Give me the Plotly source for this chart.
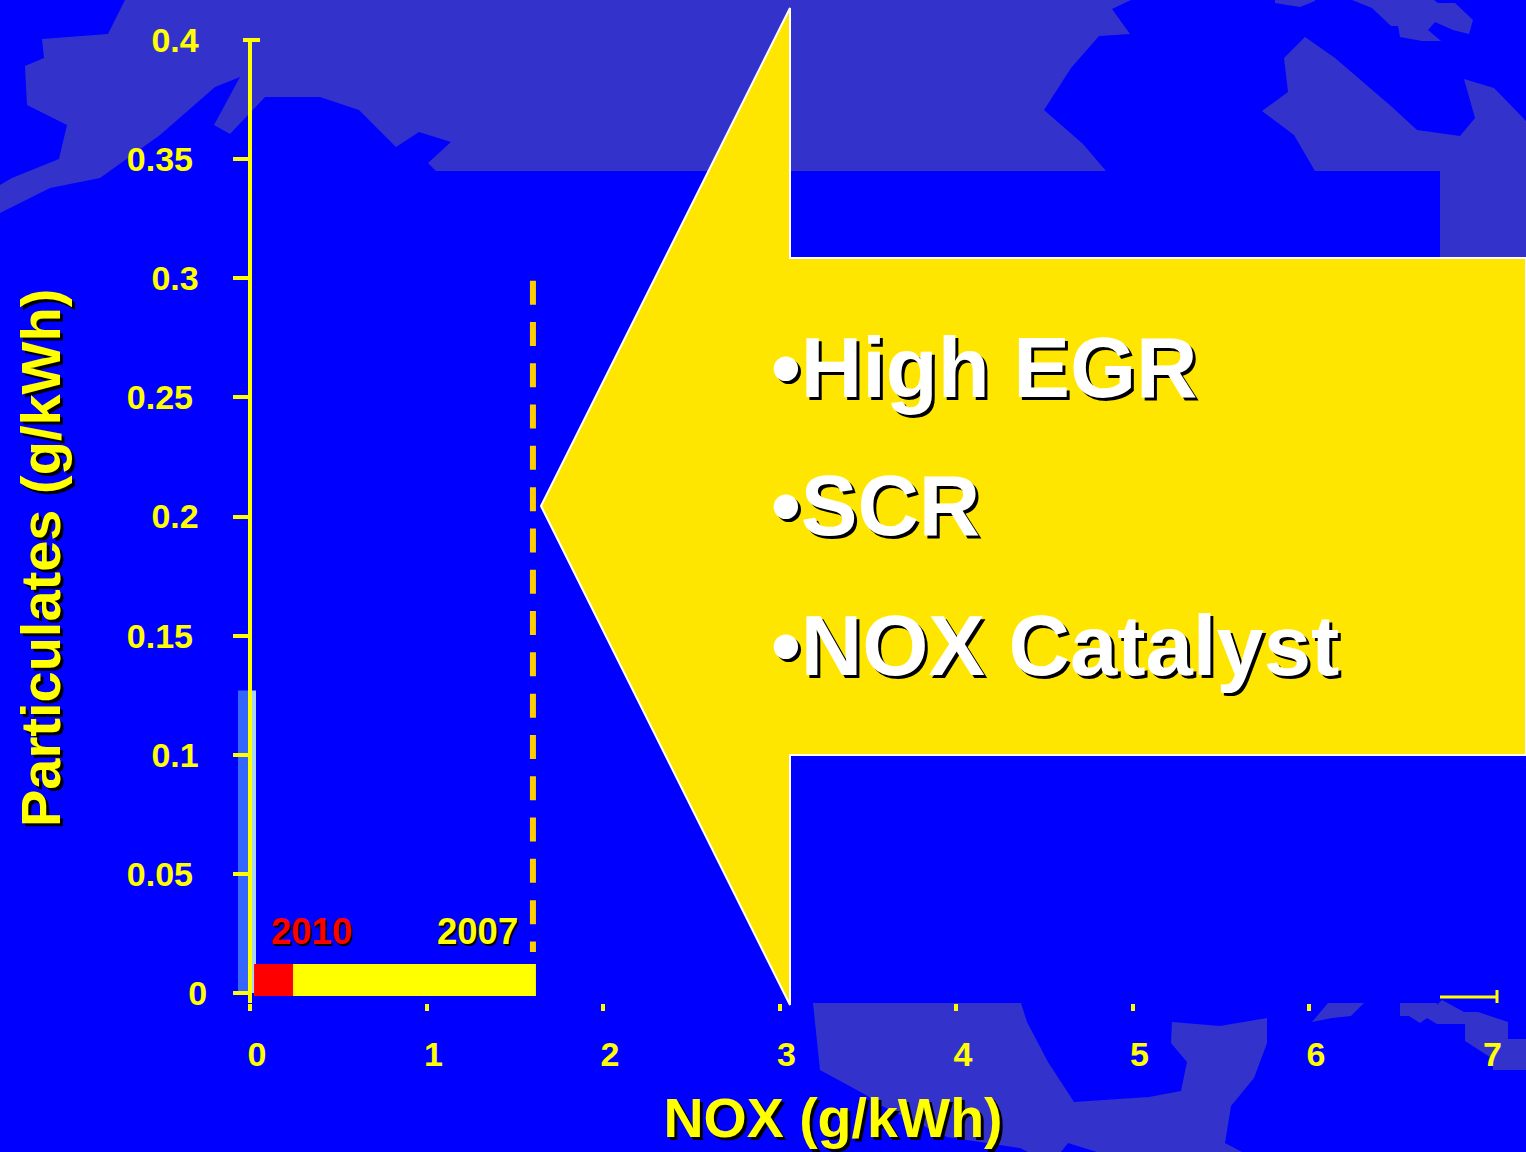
import plotly.graph_objects as go

W, H = 1526, 1152
BLUE, LAND, YEL = "#0000ff", "#3333cc", "#ffff00"
FONT = "Liberation Sans"

# ---- data ----
x_ticks = [0, 1, 2, 3, 4, 5, 6, 7]
y_ticks = [0, 0.05, 0.1, 0.15, 0.2, 0.25, 0.3, 0.35, 0.4]
y_labels = ["0", "0.05", "0.1", "0.15", "0.2", "0.25", "0.3", "0.35", "0.4"]
nox_2007 = [0.023, 1.62]
nox_2010 = [0.023, 0.244]
pm_band = [-0.00126, 0.0122]
limit_nox = [1.603, 1.603]
limit_pm = [0.299, 0.0172]
band_nox = [-0.068, 0.0]
band_nox_light = [0.0, 0.034]
band_pm = [0.0, 0.127]
bullets = ["•High EGR", "•SCR", "•NOX Catalyst"]

# ---- page geometry: axes are linear, 176.5 px per NOX unit, 2382.5 px per PM unit ----
PX0, PXU, PY0, PYU = 250, 176.5, 993, 2382.5
dx = lambda px: (px - PX0) / PXU
dy = lambda py: (PY0 - py) / PYU
def path(pts):
    return "M" + "L".join(f"{x / W:.5f},{1 - y / H:.5f}" for x, y in pts) + "Z"

land = [
    [(125,0),(108,34),(42,39),(44,58),(25,66),(27,105),(67,125),(59,159),(12,178),(0,185),(0,213),
     (50,188),(100,178),(160,135),(215,87),(240,77),(214,125),(230,134),(265,97),(320,97),(359,110),
     (396,147),(419,132),(451,142),(428,163),(436,171),(1106,171),(1083,144),(1044,110),(1071,68),
     (1099,36),(1130,34),(1112,9),(1131,0)],
    [(1440,258),(1440,171),(1315,171),(1294,135),(1262,111),(1288,92),(1284,58),(1305,37),(1335,58),
     (1392,107),(1417,130),(1460,136),(1475,118),(1464,79),(1494,88),(1526,121),(1526,258)],
    [(1275,0),(1275,3),(1300,7),(1315,1),(1315,0)],
    [(1352,0),(1372,8),(1391,26),(1398,26),(1400,37),(1422,41),(1441,41),(1428,30),(1435,22),(1453,30),
     (1469,34),(1473,20),(1455,3),(1438,3),(1434,0)],
    [(813,1003),(820,1070),(866,1095),(880,1105),(947,1137),(1020,1148),(1028,1152),(1061,1152),(1068,1143),
     (1097,1152),(1242,1152),(1225,1143),(1231,1106),(1254,1078),(1267,1043),(1267,1018),(1220,1026),
     (1172,1022),(1171,1043),(1187,1062),(1181,1091),(1149,1097),(1074,1102),(1048,1062),(1027,1022),(1021,1003)],
    [(1328,1003),(1312,1022),(1332,1018),(1351,1016),(1364,1003)],
    [(1400,1003),(1400,1016),(1409,1016),(1420,1023),(1427,1018),(1437,1024),(1465,1024),(1465,1041),
     (1493,1059),(1493,1070),(1526,1070),(1526,1039),(1508,1039),(1508,1022),(1478,1012),(1464,1012),
     (1442,1000),(1437,1005),(1437,1003)],
]
arrow = [(790,8),(790,258),(1526,258),(1526,755),(790,755),(790,1005),(541,506)]

shapes = [dict(type="path", xref="paper", yref="paper", path=path(p), fillcolor=LAND, line_width=0, layer="below") for p in land]
shapes.append(dict(type="path", xref="paper", yref="paper", path=path(arrow), fillcolor="#ffe600",
                   line=dict(color="#ffffff", width=2), layer="below"))
shapes.append(dict(type="line", xref="paper", yref="paper", x0=255/W, x1=255/W, y0=1-190/H, y1=1-690/H,
                   line=dict(color="#0000c8", width=1), layer="below"))
# trims the two ticks that the reference draws differently
shapes.append(dict(type="rect", xref="paper", yref="paper", x0=230/W, x1=243/W, y0=1-36/H, y1=1-44/H,
                   fillcolor=LAND, line_width=0, layer="above"))
shapes.append(dict(type="rect", xref="paper", yref="paper", x0=1480/W, x1=1491/W, y0=1-1003.5/H, y1=1-1012/H,
                   fillcolor=BLUE, line_width=0, layer="above"))
# the top tick of the PM axis reaches across the axis line
shapes.append(dict(type="line", xref="paper", yref="paper", x0=243/W, x1=260/W, y0=1-40/H, y1=1-40/H,
                   line=dict(color=YEL, width=4), layer="above"))

def box(xs, ys, color, name):
    return go.Scatter(x=[xs[0], xs[1], xs[1], xs[0], xs[0]], y=[ys[0], ys[0], ys[1], ys[1], ys[0]],
                      mode="lines", fill="toself", fillcolor=color, line=dict(width=0), name=name,
                      hoverinfo="skip", showlegend=False)

fig = go.Figure()
fig.add_trace(box(band_nox, band_pm, "#3366ff", "band"))
fig.add_trace(box(band_nox_light, band_pm, "#a8d4ff", "band light"))
fig.add_trace(box(nox_2007, pm_band, YEL, "2007"))
fig.add_trace(box(nox_2010, pm_band, "#ff0000", "2010"))
fig.add_trace(go.Scatter(x=limit_nox, y=limit_pm, mode="lines", showlegend=False,
                         line=dict(color="#ffcc00", width=6, dash="24px,17.3px")))
# the visible right-hand end of the NOX axis
fig.add_trace(go.Scatter(x=[dx(1440), dx(1497), dx(1497), dx(1497)], y=[dy(997), dy(997), dy(990), dy(1003)],
                         mode="lines", cliponaxis=False, showlegend=False, line=dict(color=YEL, width=3)))

def ann(text, px, py, size, color, shadow, anchor="center", angle=0):
    return dict(text=text, x=dx(px), y=dy(py), xref="x", yref="y", showarrow=False, xanchor=anchor,
                yanchor="middle", textangle=angle,
                font=dict(family=FONT, size=size, color=color, weight=700, shadow=shadow))

annotations = [
    ann("2010", 311, 931, 36.5, "#ff0000", "2px 2px 0 #000"),
    ann("2007", 477.5, 931, 36.5, YEL, "2px 2px 0 #000"),
    dict(text="Particulates (g/kWh)", x=40 / W, y=1 - 558 / H, xref="paper", yref="paper", showarrow=False,
         xanchor="center", yanchor="middle", textangle=-90,
         font=dict(family=FONT, size=56, color=YEL, weight=700, shadow="-3px 3px 0 #000")),
]
for text, py in zip(bullets, [367, 505, 645]):
    annotations.append(ann(text, 769, py, 85, "#ffffff", "3px 3px 0 #000", anchor="left"))

pad = {1: "", 3: "\u2005", 4: "\u2005\u2006"}
fig.update_layout(
    width=W, height=H, margin=dict(l=0, r=0, t=0, b=0), showlegend=False,
    paper_bgcolor=BLUE, plot_bgcolor="rgba(0,0,0,0)",
    shapes=shapes, annotations=annotations,
    xaxis=dict(domain=[140 / W, 1], range=[dx(140), dx(W)], tickmode="array", tickvals=x_ticks, automargin=False,
               ticktext=[str(v) for v in x_ticks], ticks="outside", ticklen=7, tickwidth=4, tickcolor=YEL,
               showline=False, showgrid=False, zeroline=False, ticklabelshift=7, ticklabelstandoff=14,
               tickfont=dict(family=FONT, size=34, color=YEL, weight=700),
               title=dict(text="NOX (g/kWh)", standoff=26,
                          font=dict(family=FONT, size=55.5, color=YEL, weight=700, shadow="3px 3px 0 #000"))),
    yaxis=dict(domain=[1 - 1003 / H, 1 - 40 / H], range=[dy(1003), dy(40)], anchor="free", position=PX0 / W,
               automargin=False,
               tickmode="array", tickvals=y_ticks, ticktext=[s + pad[len(s)] for s in y_labels],
               ticks="outside", ticklen=15, tickwidth=4, tickcolor=YEL, showline=True, linecolor=YEL, linewidth=4,
               showgrid=False, zeroline=False, ticklabelstandoff=19,
               tickfont=dict(family=FONT, size=34, color=YEL, weight=700)),
)
fig.write_html("out.html", config=dict(displayModeBar=False),
               post_script="document.body.style.margin='0';document.documentElement.style.overflow='hidden';")
